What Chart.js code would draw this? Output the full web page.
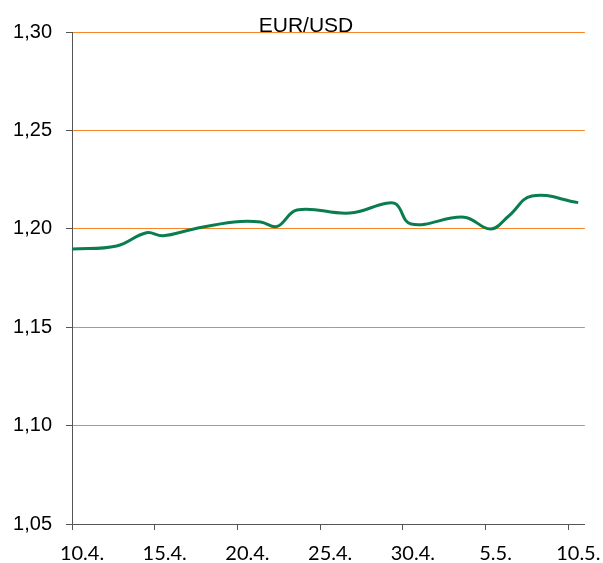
<!DOCTYPE html>
<html>

<head>
    <meta charset="utf-8">
    <script src="https://cdn.jsdelivr.net/npm/chart.js@4/dist/chart.umd.min.js"></script>
    <style>
        html, body { margin: 0; padding: 0; background: #fff; }
    </style>
</head>

<body>
    <div style="width: 603px; height: 563px;">
        <canvas id="wykres" width="603" height="563"></canvas>
    </div>
    <script>
        // days counted from 10.4.
        const dni = [0, 2.7, 4.5, 5.5, 7.3, 9.8, 11.4, 12.4, 13.6, 16.8, 19, 19.6, 20.5, 23.7, 25.3, 26.4, 27.8, 30.6];
        const kurs = [1.1897, 1.1913, 1.1980, 1.1965, 1.1998, 1.2035, 1.2035, 1.2012, 1.2096, 1.2080, 1.2130, 1.2125, 1.2024, 1.2059, 1.1999, 1.2065, 1.2167, 1.2133];
        const dniOpisy = [0, 5, 10, 15, 20, 25, 30];
        const opisy = ["10.4.", "15.4.", "20.4.", "25.4.", "30.4.", "5.5.", "10.5."];
        const poziomy = [1.05, 1.10, 1.15, 1.20, 1.25, 1.30];
        const tytul = "EUR/USD";

        const pomaranczowy = "#f7852a";
        const zielony = "#0a7d4e";
        const osie = "#555555";

        const punkty = dni.map((d, i) => ({ x: d, y: kurs[i] }));

        const tytulPlugin = {
            id: "tytul",
            afterDraw(chart) {
                const c = chart.ctx;
                c.save();
                c.font = "21px 'Liberation Sans', Arial";
                c.fillStyle = "#000";
                c.textAlign = "center";
                c.textBaseline = "alphabetic";
                c.fillText(tytul, 306, 32);
                c.restore();
            }
        };

        const ctx = document.getElementById("wykres").getContext("2d");
        const wykres = new Chart(ctx, {
            type: "scatter",
            data: {
                datasets: [{
                    label: tytul,
                    data: punkty,
                    showLine: true,
                    borderColor: zielony,
                    borderWidth: 3,
                    pointRadius: 0,
                    tension: 0.4,
                    fill: false
                }]
            },
            options: {
                responsive: false,
                animation: false,
                devicePixelRatio: 1,
                layout: { padding: { top: 32, right: 18, left: 0, bottom: 0 } },
                plugins: {
                    legend: { display: false },
                    tooltip: { enabled: false }
                },
                scales: {
                    x: {
                        type: "linear",
                        min: 0,
                        max: 31,
                        afterBuildTicks: (s) => { s.ticks = dniOpisy.map(v => ({ value: v })); },
                        afterFit: (s) => { s.height = 39; },
                        grid: { drawOnChartArea: false, tickColor: osie, tickLength: 6 },
                        border: { color: osie },
                        ticks: {
                            callback: (v) => opisy[dniOpisy.indexOf(v)],
                            font: { family: "Lato", size: 20 },
                            color: "#000",
                            padding: 12,
                            labelOffset: 10,
                            maxRotation: 0,
                            autoSkip: false
                        }
                    },
                    y: {
                        min: 1.05,
                        max: 1.30,
                        afterBuildTicks: (s) => { s.ticks = poziomy.map(v => ({ value: v })); },
                        afterFit: (s) => { s.width = 72; },
                        grid: { color: pomaranczowy, tickColor: osie, tickLength: 6, lineWidth: 1 },
                        border: { color: osie },
                        ticks: {
                            callback: (v) => v.toFixed(2).replace(".", ","),
                            font: { family: "'Liberation Sans', Arial", size: 20 },
                            color: "#000",
                            padding: 14
                        }
                    }
                }
            },
            plugins: [tytulPlugin]
        });
    </script>
</body>

</html>
